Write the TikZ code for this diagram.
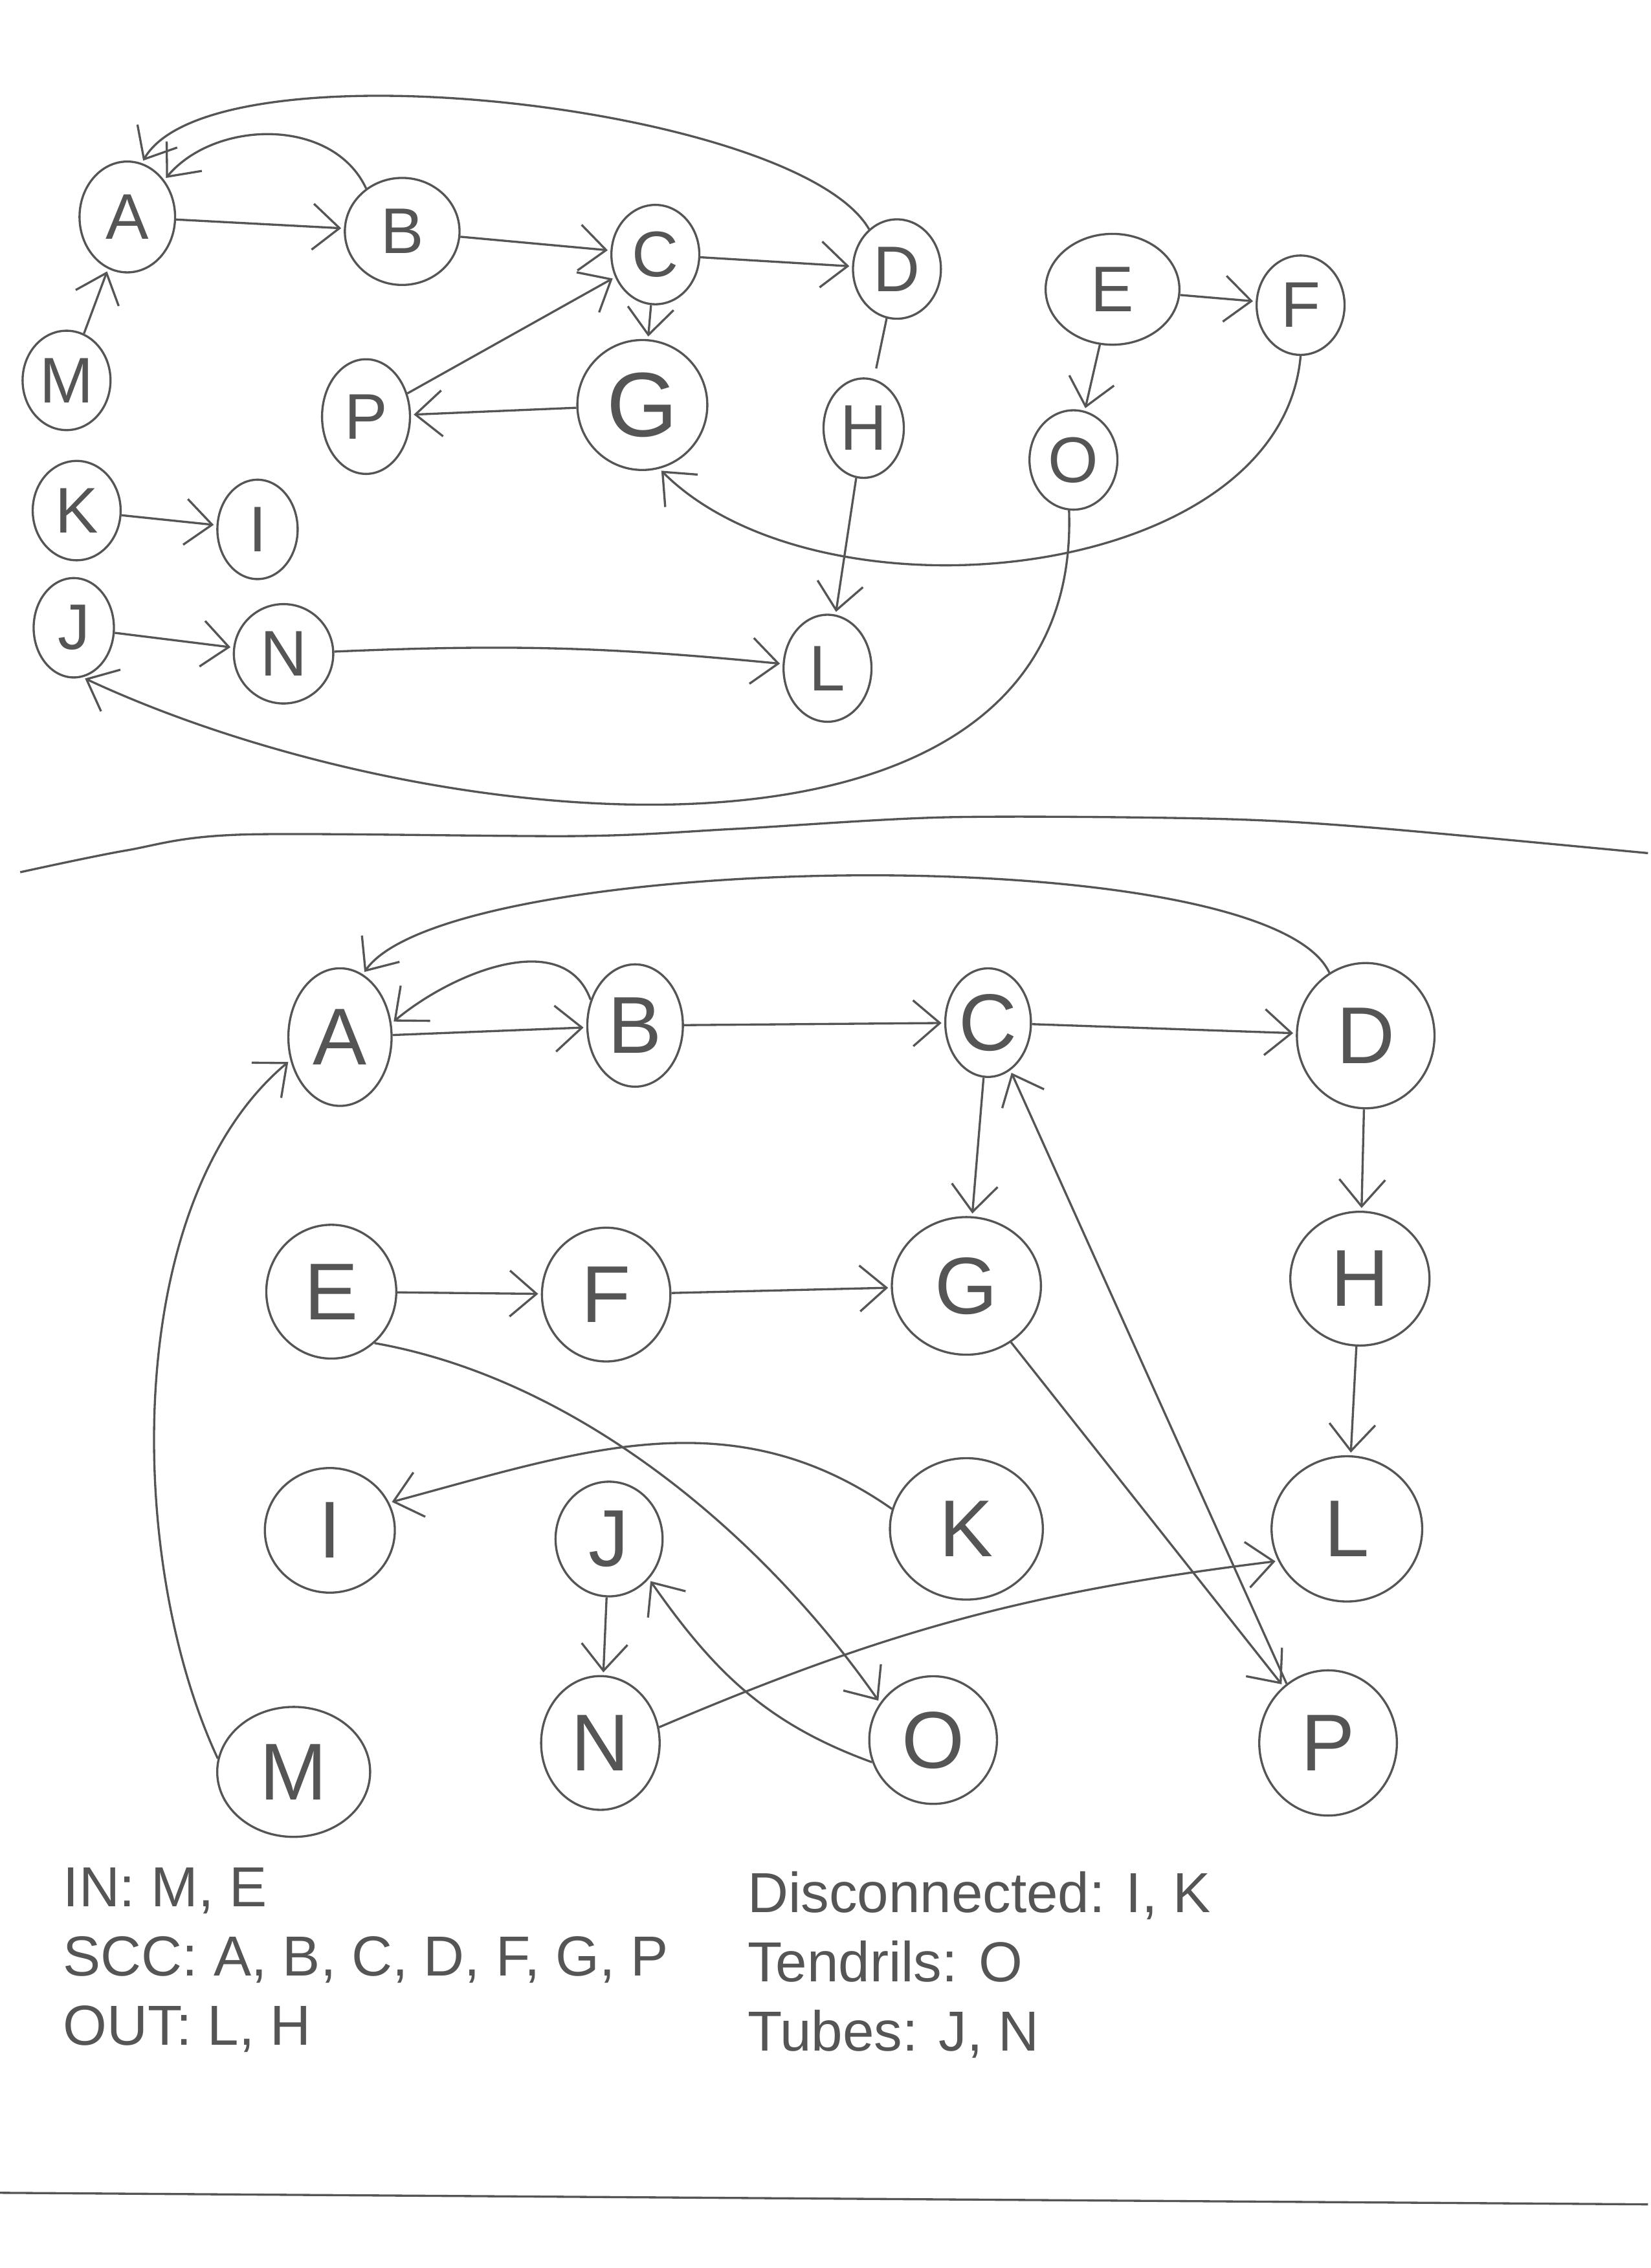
\documentclass[tikz,border=0pt]{standalone}
\usepackage{fontspec}
\setmainfont{Liberation Sans}
\usetikzlibrary{arrows.meta,shapes.geometric}
\definecolor{pencil}{RGB}{85,85,85}

\begin{document}
\begin{tikzpicture}[x=0.018922cm,y=-0.018922cm,->,>={Straight Barb[length=3.5mm,width=6mm]},shorten >=1pt,line width=0.8pt,color=pencil]
  \tikzstyle{top vertex}=[ellipse,draw,minimum width=1.15cm,minimum height=1.3cm,inner sep=0pt,font=\fontsize{24}{26}\selectfont]
  \tikzstyle{low vertex}=[ellipse,draw,minimum width=1.8cm,minimum height=1.8cm,inner sep=0pt,font=\fontsize{30}{32}\selectfont]
  \tikzstyle{note}=[anchor=base west,inner sep=0pt,font=\fontsize{21}{23}\selectfont]

  \useasboundingbox (0,0) rectangle (1141,1568);

  % first sketch
  \node[top vertex,minimum width=1.25cm,minimum height=1.45cm] (uA) at (88,150) {A};
  \node[top vertex,minimum width=1.5cm,minimum height=1.4cm] (uB) at (278,160) {B};
  \node[top vertex] (uC) at (453,176) {C};
  \node[top vertex] (uD) at (620,186) {D};
  \node[top vertex,minimum width=1.75cm,minimum height=1.45cm] (uE) at (769,200) {E};
  \node[top vertex] (uF) at (899,211) {F};
  \node[top vertex] (uM) at (46,263) {M};
  \node[top vertex,minimum height=1.5cm] (uP) at (253,288) {P};
  \node[top vertex,minimum width=1.7cm,minimum height=1.7cm,font=\fontsize{34}{36}\selectfont] (uG) at (444,280) {G};
  \node[top vertex,minimum width=1.05cm] (uH) at (597,296) {H};
  \node[top vertex] (uO) at (742,318) {O};
  \node[top vertex] (uK) at (53,353) {K};
  \node[top vertex,minimum width=1.05cm] (uI) at (178,366) {I};
  \node[top vertex,minimum width=1.05cm] (uJ) at (51,434) {J};
  \node[top vertex,minimum width=1.3cm] (uN) at (196,452) {N};
  \node[top vertex,minimum height=1.4cm] (uL) at (572,462) {L};

  \path
  (uA) edge (uB)
  (uB) edge (uC)
  (uC) edge (uD)
  (uC) edge (uG)
  (uG) edge (uP)
  (uP) edge (uC)
  (uM) edge (uA)
  (uB.130) edge [out=115,in=50] (uA.45)
  (uD.125) edge [out=120,in=60,looseness=0.5] (uA.75)
  (uD) edge [-,shorten >=4pt] (uH)
  (uH) edge (uL)
  (uE) edge (uF)
  (uE) edge (uO)
  (uF.south) edge [out=-95,in=-45,looseness=0.9] (uG.-75)
  (uK) edge (uI)
  (uJ) edge (uN)
  (uN) edge [bend left=4] (uL)
  (uO.-95) edge [out=-88,in=-25] (uJ.-80);

  \draw[-] plot[smooth] coordinates {(14,603) (87,588) (167,577) (400,578) (509,573) (655,565) (837,566) (946,572) (1141,590)};

  % second sketch
  \node[low vertex,minimum width=1.35cm] (lA) at (235,717) {A};
  \node[low vertex,minimum width=1.25cm,minimum height=1.6cm] (lB) at (439,709) {B};
  \node[low vertex,minimum width=1.12cm,minimum height=1.42cm] (lC) at (683,707) {C};
  \node[low vertex,minimum height=1.9cm] (lD) at (944,716) {D};
  \node[low vertex,minimum width=1.7cm,minimum height=1.75cm] (lE) at (229,893) {E};
  \node[low vertex,minimum width=1.68cm,minimum height=1.75cm] (lF) at (419,895) {F};
  \node[low vertex,minimum width=1.95cm] (lG) at (668,889) {G};
  \node[low vertex,minimum width=1.82cm,minimum height=1.75cm] (lH) at (940,884) {H};
  \node[low vertex,minimum width=1.7cm,minimum height=1.63cm] (lI) at (228,1058) {I};
  \node[low vertex,minimum width=1.4cm,minimum height=1.5cm] (lJ) at (421,1064) {J};
  \node[low vertex,minimum width=2cm,minimum height=1.85cm] (lK) at (668,1057) {K};
  \node[low vertex,minimum width=1.97cm,minimum height=1.9cm] (lL) at (931,1057) {L};
  \node[low vertex,minimum width=2cm,minimum height=1.7cm] (lM) at (203,1225) {M};
  \node[low vertex,minimum width=1.55cm,minimum height=1.75cm] (lN) at (415,1205) {N};
  \node[low vertex,minimum width=1.67cm,minimum height=1.67cm] (lO) at (645,1203) {O};
  \node[low vertex,minimum height=1.9cm] (lP) at (918,1205) {P};

  \path
  (lA) edge (lB)
  (lB.150) edge [out=110,in=40] (lA.15)
  (lB) edge (lC)
  (lC) edge (lD)
  (lD.120) edge [out=115,in=55,looseness=0.4] (lA.70)
  (lC) edge (lG)
  (lD) edge (lH)
  (lH) edge (lL)
  (lE) edge (lF)
  (lF) edge (lG)
  (lE.-50) edge [out=-10,in=125,looseness=0.85] (lO.145)
  (lK.165) edge [out=145,in=15] (lI.25)
  (lG) edge (lP)
  (lP.125) edge (lC.-65)
  (lM.170) edge [out=115,in=220,looseness=0.8] (lA.205)
  (lJ) edge (lN)
  (lO.200) edge [out=160,in=-55] (lJ.-45)
  (lN.15) edge [bend left=8] (lL.205);

  \node[note] (inset) at (43,1318) {IN: M, E};
  \node[note] (sccset) at (43,1366) {SCC: A, B, C, D, F, G, P};
  \node[note] (outset) at (43,1414) {OUT: L, H};
  \node[note] (discset) at (516,1322) {Disconnected: I, K};
  \node[note] (tendset) at (516,1370) {Tendrils: O};
  \node[note] (tubeset) at (516,1418) {Tubes: J, N};

  \draw[-] (0,1516) -- (1141,1524);
\end{tikzpicture}
\end{document}
